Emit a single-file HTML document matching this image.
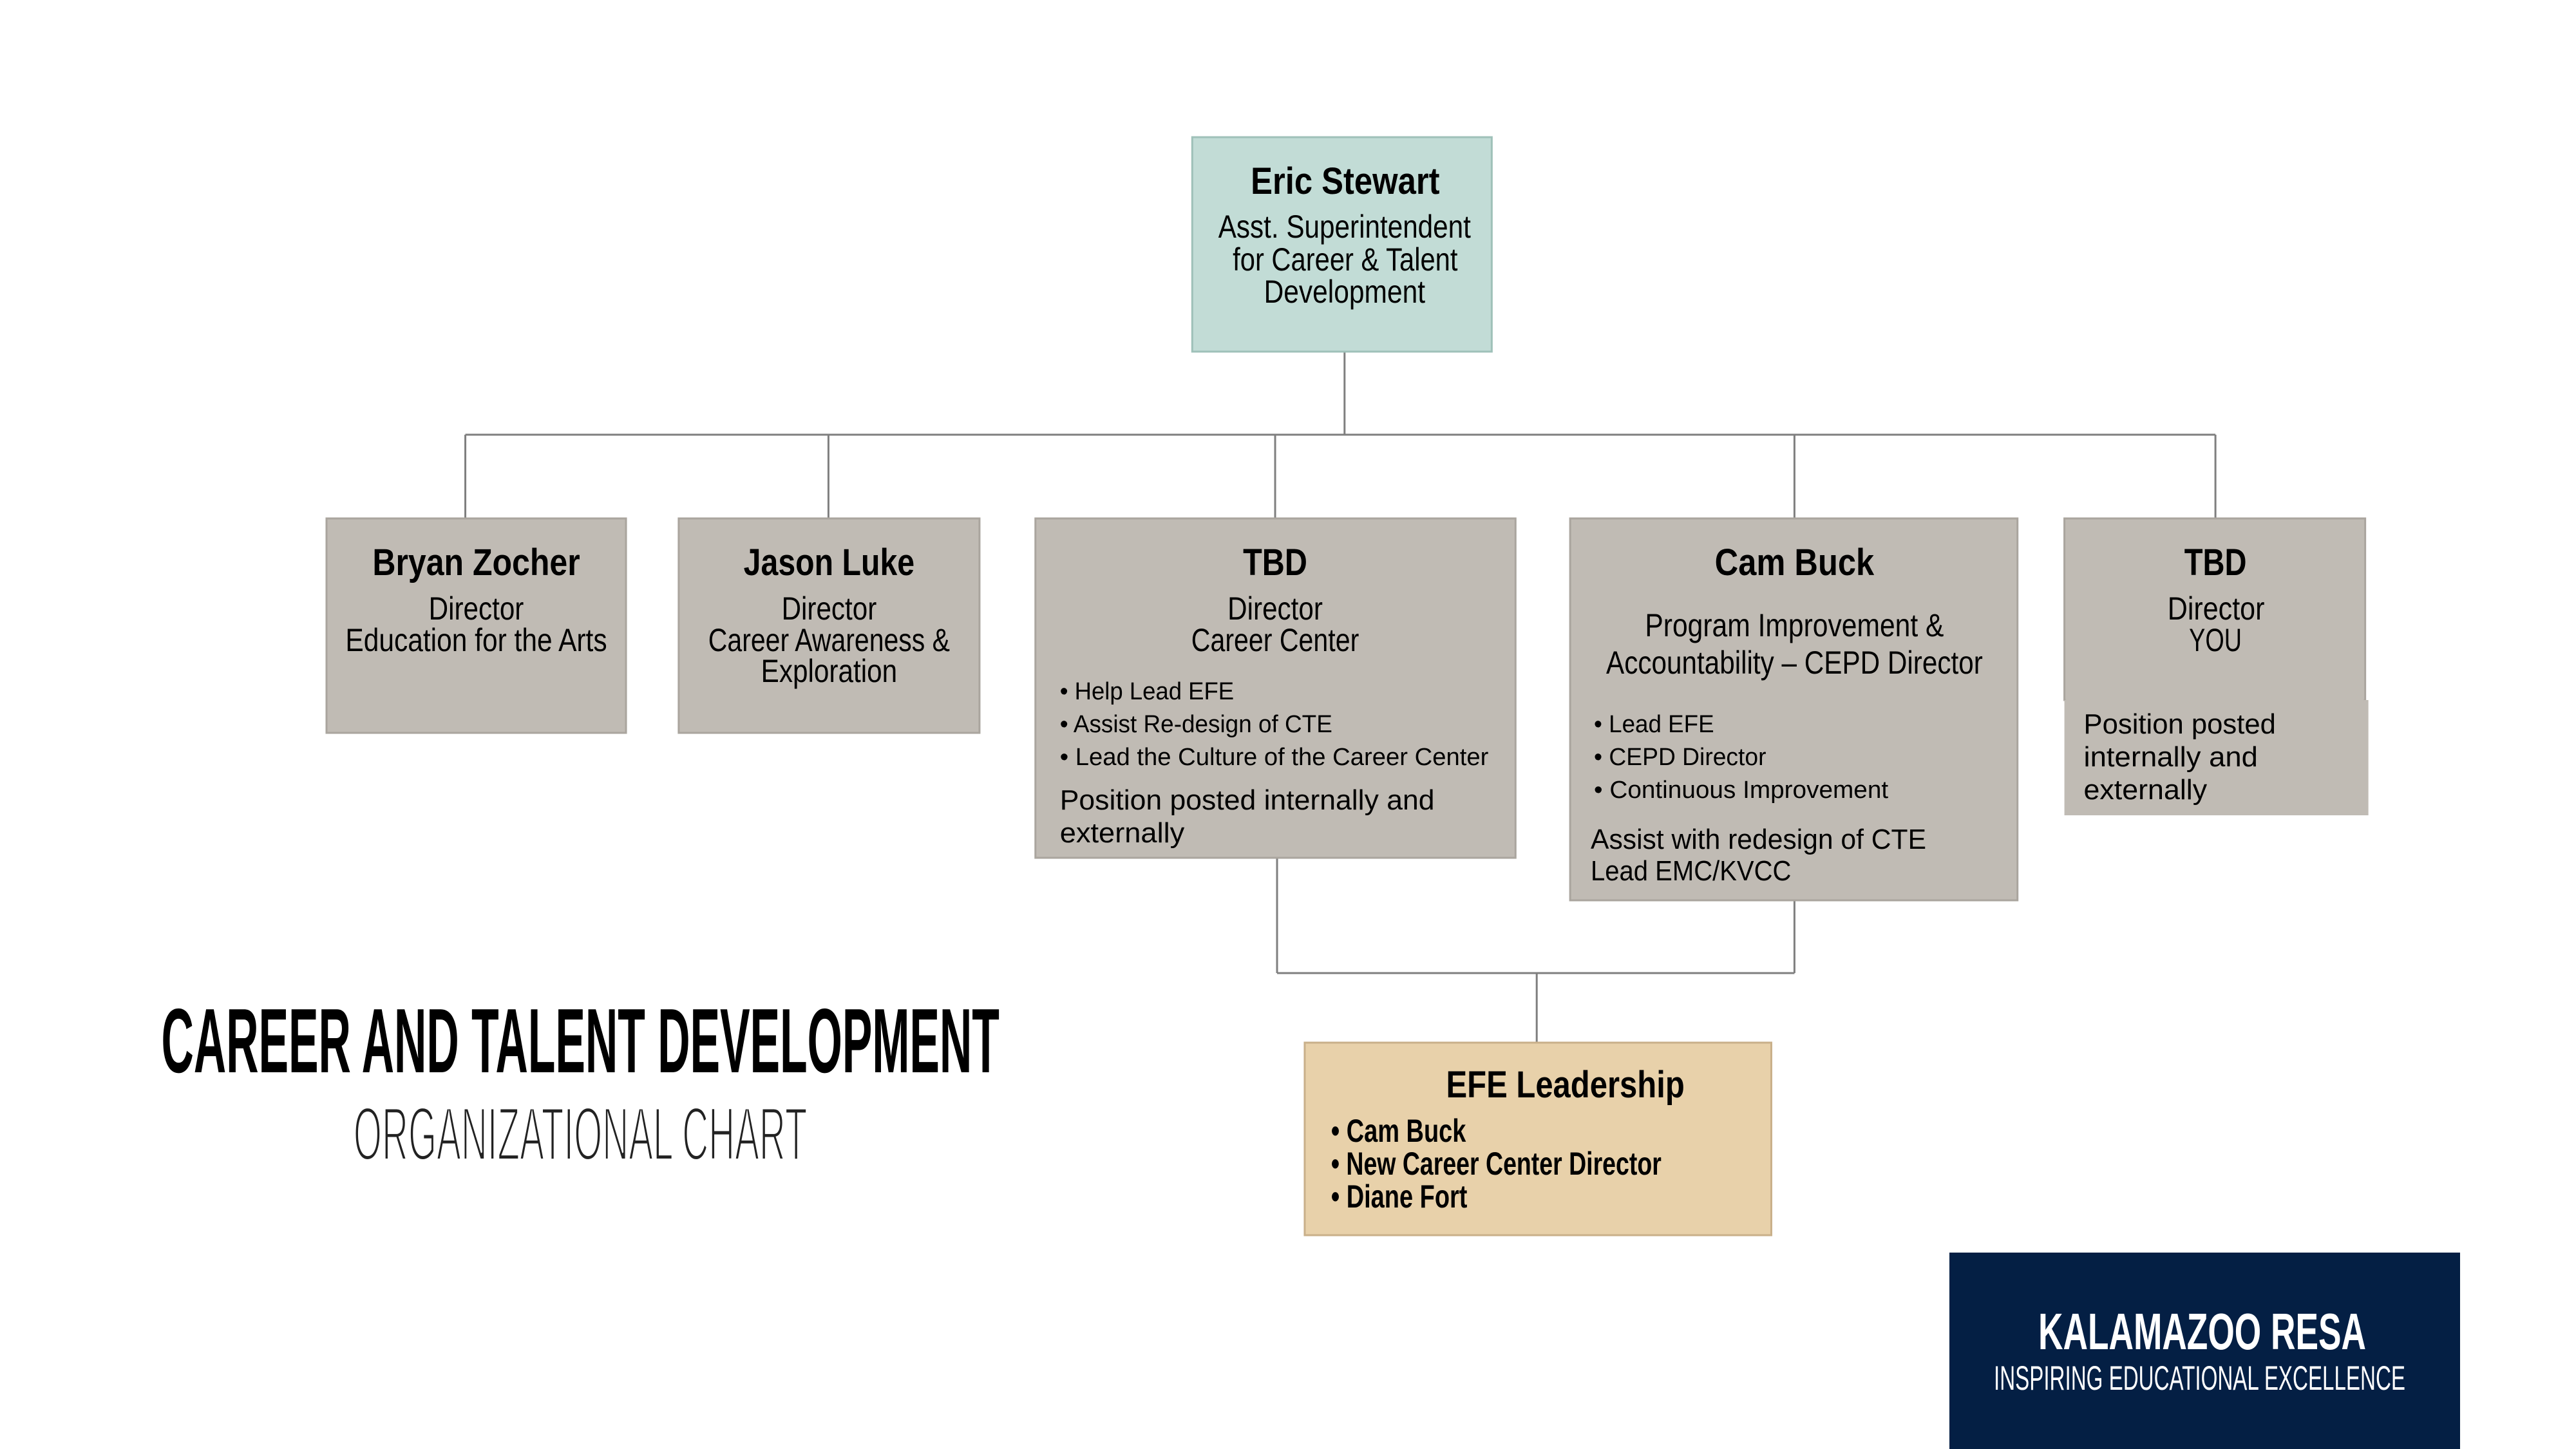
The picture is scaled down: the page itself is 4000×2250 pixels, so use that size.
<!DOCTYPE html>
<html><head><meta charset="utf-8"><style>
html,body{margin:0;padding:0;background:#fff;}
svg{display:block;}
text{font-family:"Liberation Sans",sans-serif;fill:#000;}
.b{font-weight:bold;}
</style></head><body>
<svg width="4000" height="2250" viewBox="0 0 4000 2250" xmlns="http://www.w3.org/2000/svg">
<g transform="scale(0.998,1)">
<g stroke="#7f7f7f" stroke-width="3" fill="none">
<line x1="2092" y1="547" x2="2092" y2="675"/>
<line x1="724" y1="675" x2="3447" y2="675"/>
<line x1="724" y1="675" x2="724" y2="805"/>
<line x1="1289" y1="675" x2="1289" y2="805"/>
<line x1="1984" y1="675" x2="1984" y2="805"/>
<line x1="2792" y1="675" x2="2792" y2="805"/>
<line x1="3447" y1="675" x2="3447" y2="805"/>
<line x1="1987" y1="1332" x2="1987" y2="1511"/>
<line x1="2792" y1="1399" x2="2792" y2="1511"/>
<line x1="1987" y1="1511" x2="2792" y2="1511"/>
<line x1="2391" y1="1511" x2="2391" y2="1619"/>
</g>
<rect x="1855" y="213" width="466" height="333" fill="#c2dcd6" stroke="#9fc1b9" stroke-width="3"/>
<g fill="#c0bbb4" stroke="#aaa59e" stroke-width="3">
<rect x="508" y="805" width="466" height="333"/>
<rect x="1056" y="805" width="468" height="333"/>
<rect x="1611" y="805" width="747" height="527"/>
<rect x="2443" y="805" width="696" height="593"/>
<rect x="3212" y="805" width="468" height="282"/>
</g>
<rect x="3212" y="1087" width="473" height="179" fill="#c0bbb4"/>
<rect x="3214" y="1080" width="464" height="12" fill="#c0bbb4"/>
<rect x="2030" y="1619" width="726" height="299" fill="#e8d1aa" stroke="#c9b08a" stroke-width="3"/>

<text class="b" x="2093" y="301" font-size="58" text-anchor="middle" textLength="294" lengthAdjust="spacingAndGlyphs">Eric Stewart</text>
<text x="2092" y="369" font-size="50" text-anchor="middle" textLength="393" lengthAdjust="spacingAndGlyphs">Asst. Superintendent</text>
<text x="2093" y="420" font-size="50" text-anchor="middle" textLength="350" lengthAdjust="spacingAndGlyphs">for Career &amp; Talent</text>
<text x="2092" y="470" font-size="50" text-anchor="middle" textLength="251" lengthAdjust="spacingAndGlyphs">Development</text>

<text class="b" x="741" y="893" font-size="58" text-anchor="middle" textLength="323" lengthAdjust="spacingAndGlyphs">Bryan Zocher</text>
<text x="741" y="962" font-size="50" text-anchor="middle" textLength="148" lengthAdjust="spacingAndGlyphs">Director</text>
<text x="741" y="1011" font-size="50" text-anchor="middle" textLength="407" lengthAdjust="spacingAndGlyphs">Education for the Arts</text>

<text class="b" x="1290" y="893" font-size="58" text-anchor="middle" textLength="266" lengthAdjust="spacingAndGlyphs">Jason Luke</text>
<text x="1290" y="962" font-size="50" text-anchor="middle" textLength="148" lengthAdjust="spacingAndGlyphs">Director</text>
<text x="1290" y="1011" font-size="50" text-anchor="middle" textLength="376" lengthAdjust="spacingAndGlyphs">Career Awareness &amp;</text>
<text x="1290" y="1059" font-size="50" text-anchor="middle" textLength="212" lengthAdjust="spacingAndGlyphs">Exploration</text>

<text class="b" x="1984" y="893" font-size="58" text-anchor="middle" textLength="100" lengthAdjust="spacingAndGlyphs">TBD</text>
<text x="1984" y="962" font-size="50" text-anchor="middle" textLength="148" lengthAdjust="spacingAndGlyphs">Director</text>
<text x="1984" y="1011" font-size="50" text-anchor="middle" textLength="261" lengthAdjust="spacingAndGlyphs">Career Center</text>
<text x="1649" y="1086" font-size="38" textLength="271" lengthAdjust="spacingAndGlyphs">• Help Lead EFE</text>
<text x="1649" y="1137" font-size="38" textLength="424" lengthAdjust="spacingAndGlyphs">• Assist Re-design of CTE</text>
<text x="1649" y="1188" font-size="38" textLength="667" lengthAdjust="spacingAndGlyphs">• Lead the Culture of the Career Center</text>
<text x="1649" y="1257" font-size="44" textLength="583" lengthAdjust="spacingAndGlyphs">Position posted internally and</text>
<text x="1649" y="1308" font-size="44" textLength="194" lengthAdjust="spacingAndGlyphs">externally</text>

<text class="b" x="2792" y="893" font-size="58" text-anchor="middle" textLength="248" lengthAdjust="spacingAndGlyphs">Cam Buck</text>
<text x="2792" y="988" font-size="50" text-anchor="middle" textLength="465" lengthAdjust="spacingAndGlyphs">Program Improvement &amp;</text>
<text x="2792" y="1046" font-size="50" text-anchor="middle" textLength="586" lengthAdjust="spacingAndGlyphs">Accountability – CEPD Director</text>
<text x="2480" y="1137" font-size="38" textLength="187" lengthAdjust="spacingAndGlyphs">• Lead EFE</text>
<text x="2480" y="1188" font-size="38" textLength="268" lengthAdjust="spacingAndGlyphs">• CEPD Director</text>
<text x="2480" y="1239" font-size="38" textLength="458" lengthAdjust="spacingAndGlyphs">• Continuous Improvement</text>
<text x="2475" y="1318" font-size="44" textLength="522" lengthAdjust="spacingAndGlyphs">Assist with redesign of CTE</text>
<text x="2475" y="1367" font-size="44" textLength="312" lengthAdjust="spacingAndGlyphs">Lead EMC/KVCC</text>

<text class="b" x="3447" y="893" font-size="58" text-anchor="middle" textLength="97" lengthAdjust="spacingAndGlyphs">TBD</text>
<text x="3448" y="962" font-size="50" text-anchor="middle" textLength="151" lengthAdjust="spacingAndGlyphs">Director</text>
<text x="3447" y="1011" font-size="50" text-anchor="middle" textLength="82" lengthAdjust="spacingAndGlyphs">YOU</text>
<text x="3242" y="1139" font-size="44" textLength="299" lengthAdjust="spacingAndGlyphs">Position posted</text>
<text x="3242" y="1190" font-size="44" textLength="271" lengthAdjust="spacingAndGlyphs">internally and</text>
<text x="3242" y="1241" font-size="44" textLength="192" lengthAdjust="spacingAndGlyphs">externally</text>

<text class="b" x="2250" y="1704" font-size="58" textLength="371" lengthAdjust="spacingAndGlyphs">EFE Leadership</text>
<text class="b" x="2071" y="1773" font-size="50" textLength="210" lengthAdjust="spacingAndGlyphs">• Cam Buck</text>
<text class="b" x="2071" y="1824" font-size="50" textLength="514" lengthAdjust="spacingAndGlyphs">• New Career Center Director</text>
<text class="b" x="2071" y="1875" font-size="50" textLength="212" lengthAdjust="spacingAndGlyphs">• Diane Fort</text>

<text class="b" x="251" y="1665" font-size="142" textLength="1304" lengthAdjust="spacingAndGlyphs">CAREER AND TALENT DEVELOPMENT</text>
<text x="550" y="1801" font-size="117" textLength="706" lengthAdjust="spacingAndGlyphs" style="fill:#222;font-weight:normal" stroke="#fff" stroke-width="4">ORGANIZATIONAL CHART</text>
</g>
<rect x="3027" y="1945" width="793" height="305" fill="#041f44"/>
<text class="b" x="3165" y="2095" font-size="80" textLength="509" lengthAdjust="spacingAndGlyphs" style="fill:#fff">KALAMAZOO RESA</text>
<text x="3096" y="2158" font-size="53" textLength="639" lengthAdjust="spacingAndGlyphs" style="fill:#fff">INSPIRING EDUCATIONAL EXCELLENCE</text>
</svg>
</body></html>
